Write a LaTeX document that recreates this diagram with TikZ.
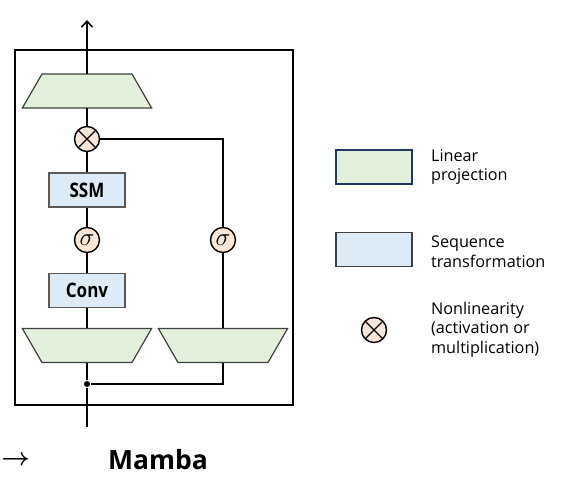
\documentclass[tikz,border=0pt]{standalone}
\usepackage{fontspec}
\setmainfont{Open Sans}
\newfontfamily\condfont{Open Sans}[FakeStretch=0.85]
\usepackage{xcolor}
\usepackage{tikz}
\usetikzlibrary{arrows.meta,shapes.geometric}

\definecolor{projgreen}{HTML}{E2EFDA}
\definecolor{seqblue}{HTML}{DDEBF7}
\definecolor{nonlin}{HTML}{FBE5D6}
\definecolor{navy}{HTML}{1F3864}

\begin{document}
\begin{tikzpicture}[x=1pt,y=-1pt,line width=1.6pt,
    proj/.style={trapezium,trapezium angle=60,
                 inner xsep=45pt,inner ysep=17pt,outer sep=0pt,
                 draw=black!75,line width=1.2pt,fill=projgreen},
    projdown/.style={proj,shape border rotate=180},
    seqbox/.style={rectangle,draw=black!65,line width=1.2pt,fill=seqblue,
                   minimum width=76pt,minimum height=34pt,inner sep=0pt,
                   font=\condfont\bfseries\fontsize{20}{20}\selectfont},
    act/.style={circle,draw=black,line width=1.4pt,fill=nonlin,
                minimum size=25pt,inner sep=0pt,font=\fontsize{24}{24}\selectfont},
    mult/.style={act,path picture={
        \draw[line width=1.4pt] (path picture bounding box.north west) -- (path picture bounding box.south east)
              (path picture bounding box.north east) -- (path picture bounding box.south west);}},
    legtext/.style={anchor=west,align=left,font=\fontsize{16.2}{19.5}\selectfont}]

\useasboundingbox (0,0) rectangle (570,478);

% block frame
\node[draw,line width=2.6pt,minimum width=278pt,minimum height=355pt,inner sep=0pt] (frame) at(154,227.5) {};

\coordinate (IN) at(87,427);
\coordinate (OUT) at(87,20);
\node[circle,fill,inner sep=0pt,minimum size=6pt] (SPLIT) at(87,384) {};

\node[projdown] (PL) at(87,345.5) {};
\node[projdown] (PR) at(223,345.5) {};
\node[seqbox] (CONV) at(87,290.5) {Conv};
\node[act] (SIGL) at(87,240) {$\sigma$};
\node[act] (SIGR) at(223,240) {$\sigma$};
\node[seqbox] (SSM) at(87,190) {SSM};
\node[mult] (MUL) at(87,139) {};
\node[proj] (PO) at(87,91) {};

\path (IN) edge (SPLIT)
      (SPLIT) edge (PL)
      (PL) edge (CONV)
      (CONV) edge (SIGL)
      (SIGL) edge (SSM)
      (SSM) edge (MUL)
      (MUL) edge (PO)
      (PR) edge (SIGR);
\draw (SPLIT) -| (PR);
\draw (SIGR) |- (MUL);
\draw[-{Straight Barb[length=6pt,width=11pt]}] (PO) -- (OUT);

% legend
\node[rectangle,draw=navy,line width=1.1pt,fill=projgreen,minimum width=76pt,minimum height=34pt] (LEGP) at(374,167) {};
\node[legtext] (LEGPT) at(427,167) {Linear\\projection};
\node[rectangle,draw=black!75,line width=1.1pt,fill=seqblue,minimum width=76pt,minimum height=34pt] (LEGS) at(374,249.5) {};
\node[legtext] (LEGST) at(427,251.5) {Sequence\\transformation};
\node[mult] (LEGN) at(374,330) {};
\node[legtext] (LEGNT) at(427,329.5) {Nonlinearity\\(activation or\\multiplication)};

% caption
\node[font=\bfseries\fontsize{26.5}{26.5}\selectfont] (TITLE) at(158,460) {Mamba};
\node[anchor=west,inner sep=0pt,font=\boldmath\fontsize{25}{25}\selectfont] (PREV) at(0.5,461) {$\rightarrow$};
\end{tikzpicture}
\end{document}
